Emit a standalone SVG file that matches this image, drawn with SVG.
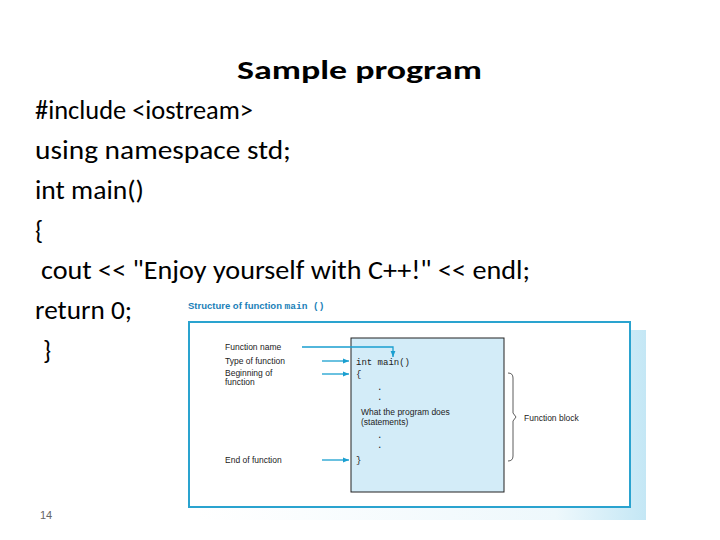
<svg xmlns="http://www.w3.org/2000/svg" width="720" height="540" viewBox="0 0 720 540">
<defs>
<marker id="ah" viewBox="0 0 10 10" refX="10" refY="5" markerWidth="5" markerHeight="5" orient="auto"><path d="M0,1 L10,5 L0,9 z" fill="#1a9fd0"/></marker>
<linearGradient id="sh" x1="0" y1="0" x2="1" y2="0"><stop offset="0" stop-color="#fff"/><stop offset="0.8" stop-color="#eef8fc"/><stop offset="1" stop-color="#c4e7f5"/></linearGradient>
</defs>
<style>
.m{font-family:Carlito,Calibri,"Liberation Sans",sans-serif;font-size:26px;fill:#000}
.s{font-family:"Liberation Sans",Arial,sans-serif;font-size:8.5px;fill:#222}
.c{font-family:"Liberation Mono",monospace;font-size:9px;fill:#222}
.ln{stroke:#1a9fd0;stroke-width:1.3;fill:none}
</style>
<rect width="720" height="540" fill="#fff"/>
<text x="237" y="79" class="m" font-weight="bold" font-size="31" textLength="245" lengthAdjust="spacingAndGlyphs">Sample program</text>
<text x="35" y="119" class="m" textLength="218" lengthAdjust="spacingAndGlyphs">#include &lt;iostream&gt;</text>
<text x="35" y="159" class="m" textLength="256" lengthAdjust="spacingAndGlyphs">using namespace std;</text>
<text x="35" y="199" class="m" textLength="109" lengthAdjust="spacingAndGlyphs">int main()</text>
<text x="35" y="239" class="m">{</text>
<text x="41" y="279" class="m" textLength="489" lengthAdjust="spacingAndGlyphs">cout &lt;&lt; "Enjoy yourself with C++!" &lt;&lt; endl;</text>
<text x="35" y="319" class="m" textLength="97" lengthAdjust="spacingAndGlyphs">return 0;</text>
<text x="43" y="359" class="m">}</text>
<text x="40" y="519" font-family="Liberation Sans,sans-serif" font-size="11" fill="#666">14</text>
<text x="188" y="309" font-family="Liberation Sans,sans-serif" font-size="9.5" font-weight="bold" fill="#1a7fb8">Structure of function <tspan font-family="Liberation Mono,monospace">main ()</tspan></text>
<rect x="196" y="330" width="450" height="190" fill="url(#sh)"/>
<rect x="189" y="322" width="441" height="185" fill="#fff" stroke="#2aa3cf" stroke-width="2"/>
<g id="block"><rect x="351" y="338" width="153" height="154" fill="#d3ecf8" stroke="#222" stroke-width="1"/>
<text x="356" y="365" class="c">int main()</text>
<text x="356" y="377" class="c">{</text>
<text x="377" y="390" class="c">.</text><text x="377" y="400" class="c">.</text>
<text x="361" y="415" class="s">What the program does</text>
<text x="361" y="425" class="s">(statements)</text>
<text x="377" y="438" class="c">.</text><text x="377" y="448" class="c">.</text>
<text x="356" y="463" class="c">}</text></g>
<g id="labels">
<text x="225" y="350" class="s">Function name</text>
<text x="225" y="364" class="s">Type of function</text>
<text x="225" y="376" class="s">Beginning of</text>
<text x="225" y="385" class="s">function</text>
<text x="225" y="463" class="s">End of function</text>
<text x="524" y="421" class="s">Function block</text>
</g>
<g id="connectors">
<path class="ln" d="M302,347 H393 V357" marker-end="url(#ah)"/>
<path class="ln" d="M322,361 H349" marker-end="url(#ah)"/>
<path class="ln" d="M322,374 H349" marker-end="url(#ah)"/>
<path class="ln" d="M322,460 H349" marker-end="url(#ah)"/>
<path d="M508,373 Q513,373 513,378 V413 L516,417 L513,421 V456 Q513,461 508,461" fill="none" stroke="#333" stroke-width="0.8"/>
</g>
</svg>
